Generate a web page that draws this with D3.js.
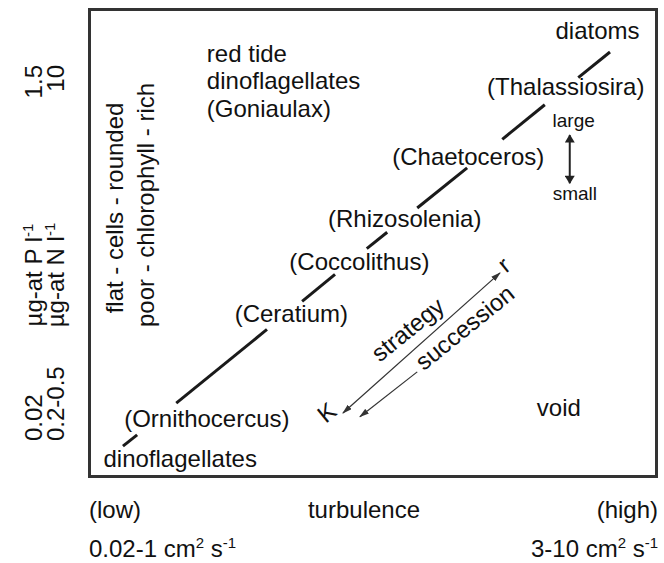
<!DOCTYPE html>
<html>
<head>
<meta charset="utf-8">
<script src="https://cdn.jsdelivr.net/npm/d3@7"></script>
<style>
  body { margin: 0; background: #fff; }
  text { font-family: "Liberation Sans", Arial, Helvetica, sans-serif; fill: #111; }
</style>
</head>
<body>
<div class="graph"></div>
<script>
// turbulence (x) and nutrients (y), both as a 0-1 fraction of the box
var taxa = ["dinoflagellates", "(Ornithocercus)", "(Ceratium)", "(Coccolithus)",
            "(Rhizosolenia)", "(Chaetoceros)", "(Thalassiosira)", "diatoms"]
var taxaTurb = [0.160, 0.207, 0.356, 0.476, 0.556, 0.668, 0.840, 0.896]
var taxaNutr = [0.020, 0.106, 0.331, 0.442, 0.534, 0.667, 0.817, 0.937]

// pieces of the main diagonal between the labels
var segTurb = [[0.059, 0.084], [0.153, 0.313], [0.375, 0.433], [0.489, 0.525],
               [0.578, 0.666], [0.728, 0.803], [0.862, 0.918]]
var segNutr = [[0.065, 0.089], [0.157, 0.315], [0.375, 0.433], [0.488, 0.523],
               [0.575, 0.661], [0.722, 0.796], [0.854, 0.909]]

var redTide = ["red tide", "dinoflagellates", "(Goniaulax)"]
var cellLines = ["flat - cells - rounded", "poor - chlorophyll - rich"]

var nutrLow = ["0.02", "0.2-0.5"]
var nutrHigh = ["1.5", "10"]
var nutrUnit = ["P", "N"]

var w = 664
var h = 563
var x = d3.scaleLinear().domain([0, 1]).range([89.5, 656.5])
var y = d3.scaleLinear().domain([0, 1]).range([476.5, 9.5])

var svg = d3.select(".graph")
              .append("svg")
              .attr("width", w)
              .attr("height", h)

var defs = svg.append("defs")
defs.append("marker")
    .attr("id", "thin")
    .attr("viewBox", "0 0 10 6")
    .attr("refX", 9).attr("refY", 3)
    .attr("markerWidth", 10).attr("markerHeight", 6)
    .attr("markerUnits", "userSpaceOnUse")
    .attr("orient", "auto-start-reverse")
  .append("path")
    .attr("d", "M0,0 L10,3 L0,6 Z")
    .attr("fill", "#333")
defs.append("marker")
    .attr("id", "fat")
    .attr("viewBox", "0 0 10 12")
    .attr("refX", 9).attr("refY", 6)
    .attr("markerWidth", 14).attr("markerHeight", 10)
    .attr("markerUnits", "userSpaceOnUse")
    .attr("orient", "auto-start-reverse")
  .append("path")
    .attr("d", "M0,0 L10,6 L0,12 Z")
    .attr("fill", "#222")

// frame
svg.append("rect")
    .attr("x", x(0)).attr("y", y(1))
    .attr("width", x(1) - x(0)).attr("height", y(0) - y(1))
    .attr("fill", "none")
    .attr("stroke", "#333")
    .attr("stroke-width", 3)

// diagonal
svg.selectAll("line.diag")
    .data(segTurb)
    .enter()
    .append("line")
    .attr("class", "diag")
    .attr("x1", function(d){ return x(d[0]) })
    .attr("x2", function(d){ return x(d[1]) })
    .attr("y1", function(d, i){ return y(segNutr[i][0]) })
    .attr("y2", function(d, i){ return y(segNutr[i][1]) })
    .attr("stroke", "#1a1a1a")
    .attr("stroke-width", 3)

var fs = 24

svg.selectAll("text.taxon")
    .data(taxa)
    .enter()
    .append("text")
    .attr("class", "taxon")
    .attr("x", function(d, i){ return x(taxaTurb[i]) })
    .attr("y", function(d, i){ return y(taxaNutr[i]) })
    .attr("text-anchor", "middle")
    .attr("font-size", fs)
    .text(function(d){ return d })

svg.selectAll("text.red")
    .data(redTide)
    .enter()
    .append("text")
    .attr("class", "red")
    .attr("x", x(0.207))
    .attr("y", function(d, i){ return y(0.888) + i * 27.5 })
    .attr("font-size", fs)
    .text(function(d){ return d })

svg.selectAll("text.cells")
    .data(cellLines)
    .enter()
    .append("text")
    .attr("class", "cells")
    .attr("transform", function(d, i){
      return "translate(" + (123 + i * 31) + "," + (y(0.575) - i * 3) + ") rotate(-90)"
    })
    .attr("text-anchor", "middle")
    .attr("font-size", fs)
    .text(function(d){ return d })

svg.append("text")
    .attr("x", x(0.789)).attr("y", y(0.130))
    .attr("font-size", fs)
    .text("void")

// large / small
svg.append("text")
    .attr("x", x(0.854)).attr("y", y(0.748))
    .attr("text-anchor", "middle")
    .attr("font-size", 19)
    .text("large")
svg.append("text")
    .attr("x", x(0.856)).attr("y", y(0.592))
    .attr("text-anchor", "middle")
    .attr("font-size", 19)
    .text("small")
svg.append("line")
    .attr("x1", x(0.847)).attr("x2", x(0.847))
    .attr("y1", y(0.731)).attr("y2", y(0.628))
    .attr("stroke", "#222")
    .attr("stroke-width", 2)
    .attr("marker-start", "url(#fat)")
    .attr("marker-end", "url(#fat)")

// strategy / succession
var ang = -39
svg.append("line")
    .attr("x1", x(0.447)).attr("y1", y(0.136))
    .attr("x2", x(0.724)).attr("y2", y(0.436))
    .attr("stroke", "#333")
    .attr("stroke-width", 1.2)
    .attr("marker-start", "url(#thin)")
    .attr("marker-end", "url(#thin)")
svg.append("line")
    .attr("x1", x(0.578)).attr("y1", y(0.224))
    .attr("x2", x(0.477)).attr("y2", y(0.128))
    .attr("stroke", "#333")
    .attr("stroke-width", 1.2)
    .attr("marker-end", "url(#thin)")

var tilted = [["strategy", 413, 336], ["succession", 470, 334], ["K", 332, 419], ["r", 509, 271]]
svg.selectAll("text.tilt")
    .data(tilted)
    .enter()
    .append("text")
    .attr("class", "tilt")
    .attr("transform", function(d){ return "translate(" + d[1] + "," + d[2] + ") rotate(" + ang + ")" })
    .attr("text-anchor", "middle")
    .attr("font-size", fs)
    .text(function(d){ return d[0] })

// nutrient labels on the left
var cols = [42, 64]
svg.selectAll("text.low")
    .data(nutrLow)
    .enter()
    .append("text")
    .attr("transform", function(d, i){ return "translate(" + cols[i] + "," + 441 + ") rotate(-90)" })
    .attr("font-size", fs)
    .text(function(d){ return d })
svg.selectAll("text.high")
    .data(nutrHigh)
    .enter()
    .append("text")
    .attr("transform", function(d, i){ return "translate(" + cols[i] + "," + 65 + ") rotate(-90)" })
    .attr("text-anchor", "end")
    .attr("font-size", fs)
    .text(function(d){ return d })
var unit = svg.selectAll("text.unit")
    .data(nutrUnit)
    .enter()
    .append("text")
    .attr("transform", function(d, i){ return "translate(" + cols[i] + "," + 275 + ") rotate(-90)" })
    .attr("text-anchor", "middle")
    .attr("font-size", fs)
unit.append("tspan").text(function(d){ return "\u00b5g-at " + d + " l" })
unit.append("tspan").attr("font-size", 15).attr("dy", -9).text("-1")

// turbulence labels at the bottom
svg.append("text").attr("x", 89).attr("y", 518).attr("font-size", fs).text("(low)")
svg.append("text").attr("x", 364).attr("y", 518).attr("text-anchor", "middle").attr("font-size", fs).text("turbulence")
svg.append("text").attr("x", 658).attr("y", 518).attr("text-anchor", "end").attr("font-size", fs).text("(high)")

var turbRange = [["0.02-1 cm", 89, "start"], ["3-10 cm", 658, "end"]]
var tr = svg.selectAll("text.trange")
    .data(turbRange)
    .enter()
    .append("text")
    .attr("x", function(d){ return d[1] })
    .attr("y", 557)
    .attr("text-anchor", function(d){ return d[2] })
    .attr("font-size", fs)
tr.append("tspan").text(function(d){ return d[0] })
tr.append("tspan").attr("font-size", 15).attr("dy", -9).text("2")
tr.append("tspan").attr("dy", 9).text(" s")
tr.append("tspan").attr("font-size", 15).attr("dy", -9).text("-1")
</script>
</body>
</html>
